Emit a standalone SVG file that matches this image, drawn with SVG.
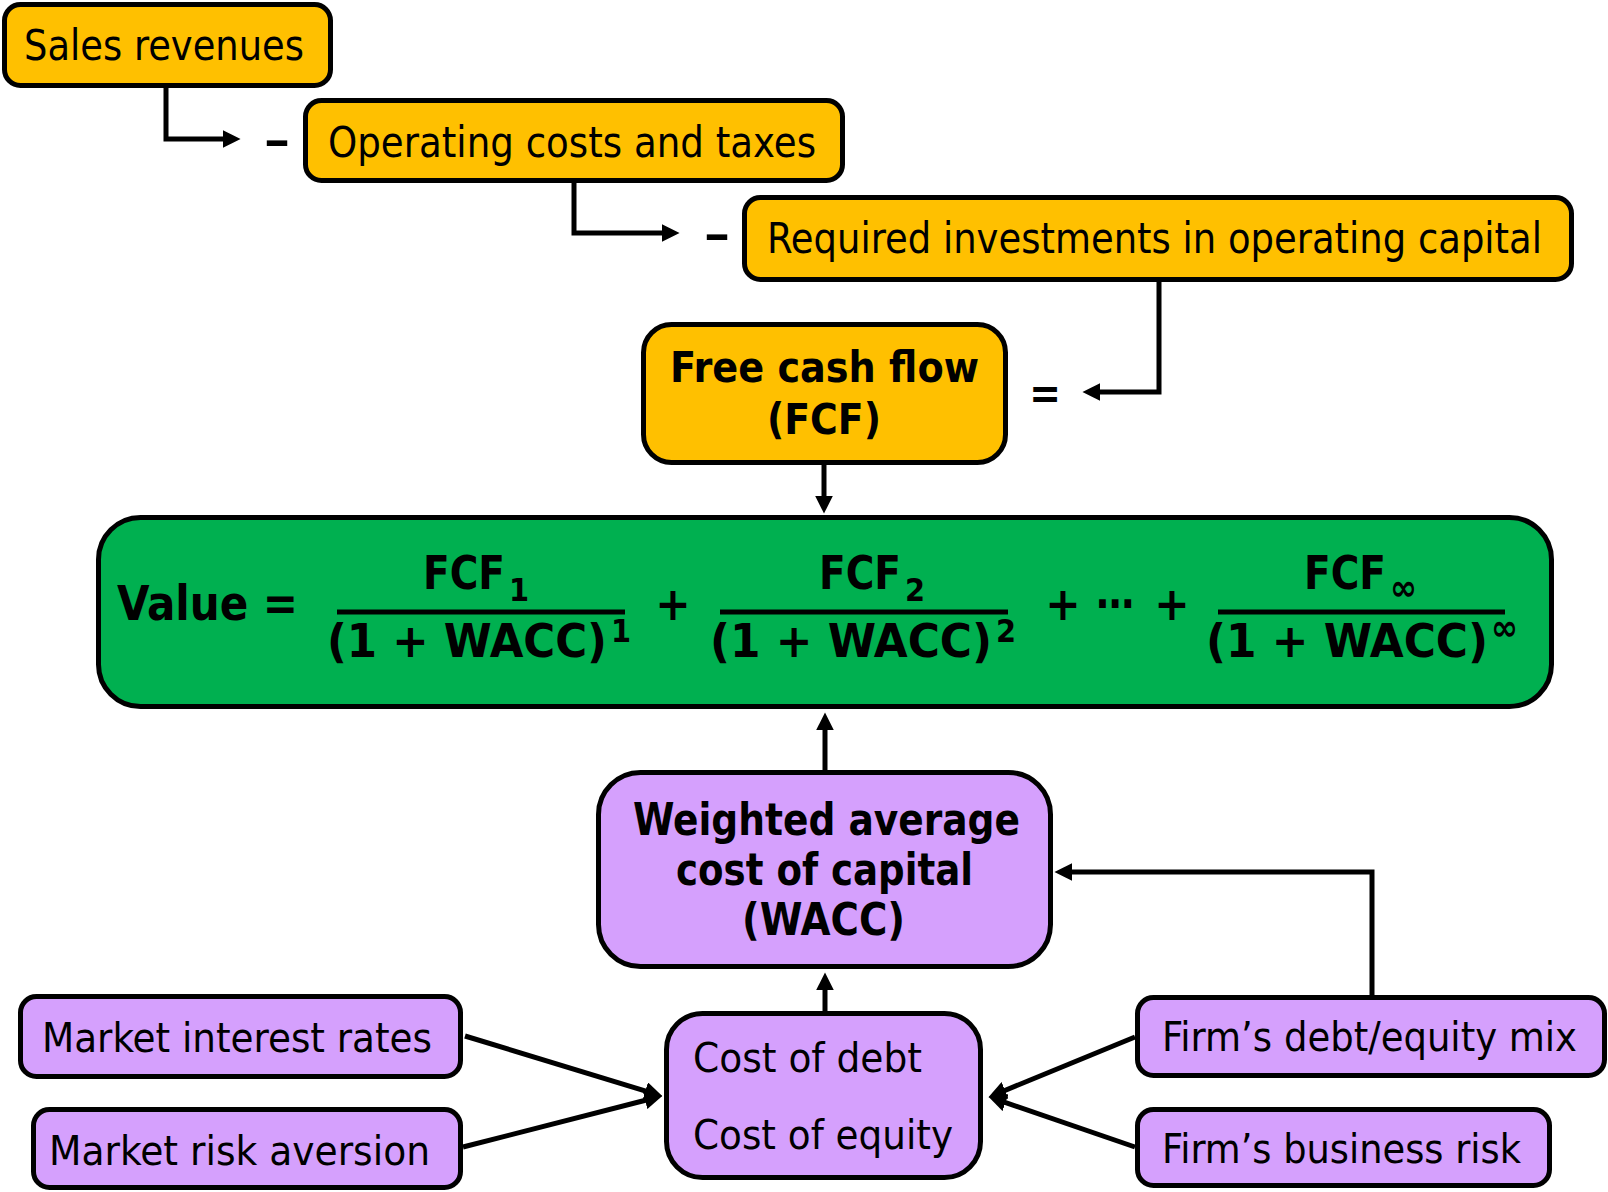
<svg xmlns="http://www.w3.org/2000/svg" width="1608" height="1192" viewBox="0 0 1608 1192">
<style>
.box{stroke:#000;stroke-width:5}
.y{fill:#FFC000}
.g{fill:#00B050}
.p{fill:#D5A0FD}
.t{font-family:"DejaVu Sans Condensed","DejaVu Sans",sans-serif;fill:#000}
.r{font-size:42px}
.s{font-size:40px}
.b{font-weight:bold}
.sm{font-size:32px}
.inf{font-size:36px}
.con{fill:none;stroke:#000;stroke-width:5}
</style>
<defs>
<marker id="ah" markerUnits="userSpaceOnUse" markerWidth="18" markerHeight="18" viewBox="0 0 17 17" refX="7" refY="8.5" orient="auto">
<path d="M0,0 L17,8.5 L0,17 z" fill="#000"/>
</marker>
</defs>
<rect width="1608" height="1192" fill="#fff"/>

<g id="connectors">
<path class="con" d="M166,88 V139 H230" marker-end="url(#ah)"/>
<path class="con" d="M574,183 V233 H669" marker-end="url(#ah)"/>
<path class="con" d="M1159,282 V392 H1093" marker-end="url(#ah)"/>
<path class="con" d="M824,465 V503" marker-end="url(#ah)"/>
<path class="con" d="M825,770 V723" marker-end="url(#ah)"/>
<path class="con" d="M825,1011 V983" marker-end="url(#ah)"/>
<path class="con" d="M1372,995 V872 H1065" marker-end="url(#ah)"/>
<path class="con" d="M465,1036 L652.4,1093.1" marker-end="url(#ah)"/>
<path class="con" d="M463,1147 L652.3,1098.5" marker-end="url(#ah)"/>
<path class="con" d="M1135,1037 L998.2,1093.2" marker-end="url(#ah)"/>
<path class="con" d="M1135,1147 L998.5,1100.2" marker-end="url(#ah)"/>
<text class="t b" x="264" y="155" font-size="44" textLength="26" lengthAdjust="spacingAndGlyphs">–</text>
<text class="t b" x="704" y="249" font-size="44" textLength="26" lengthAdjust="spacingAndGlyphs">–</text>
<text class="t b" x="1045" y="408" font-size="42" text-anchor="middle">=</text>
</g>

<g id="sales">
<rect class="box y" x="4.5" y="4.5" width="326" height="81" rx="16"/>
<text class="t r" x="24" y="60" textLength="280" lengthAdjust="spacingAndGlyphs">Sales revenues</text>
</g>
<g id="operating">
<rect class="box y" x="305.5" y="100.5" width="537" height="80" rx="16"/>
<text class="t r" x="328" y="157" textLength="488" lengthAdjust="spacingAndGlyphs">Operating costs and taxes</text>
</g>
<g id="required">
<rect class="box y" x="744.5" y="197.5" width="827" height="82" rx="16"/>
<text class="t r" x="767" y="253" textLength="775" lengthAdjust="spacingAndGlyphs">Required investments in operating capital</text>
</g>
<g id="fcf">
<rect class="box y" x="643.5" y="324.5" width="362" height="138" rx="28"/>
<text class="t b" font-size="43" x="670" y="382" textLength="309" lengthAdjust="spacingAndGlyphs">Free cash flow</text>
<text class="t b" font-size="43" x="767" y="434" textLength="114" lengthAdjust="spacingAndGlyphs">(FCF)</text>
</g>

<g id="value">
<rect class="box g" x="98.5" y="517.5" width="1453" height="189" rx="42"/>
<text class="t b" font-size="48" x="117" y="620" textLength="181" lengthAdjust="spacingAndGlyphs">Value =</text>
<g class="t b" font-size="47">
<text x="423" y="589"><tspan textLength="82" lengthAdjust="spacingAndGlyphs">FCF</tspan><tspan class="sm" x="509" y="601">1</tspan></text>
<text x="327" y="657"><tspan textLength="280" lengthAdjust="spacingAndGlyphs">(1 + WACC)</tspan><tspan class="sm" x="611" y="642">1</tspan></text>
<text x="673" y="620" text-anchor="middle">+</text>
<text x="819" y="589"><tspan textLength="82" lengthAdjust="spacingAndGlyphs">FCF</tspan><tspan class="sm" x="905" y="601">2</tspan></text>
<text x="710" y="657"><tspan textLength="282" lengthAdjust="spacingAndGlyphs">(1 + WACC)</tspan><tspan class="sm" x="996" y="642">2</tspan></text>
<text x="1063" y="620" text-anchor="middle">+</text>
<text x="1096" y="620" textLength="38" lengthAdjust="spacingAndGlyphs">⋯</text>
<text x="1172" y="620" text-anchor="middle">+</text>
<text x="1304" y="589"><tspan textLength="82" lengthAdjust="spacingAndGlyphs">FCF</tspan><tspan class="inf" x="1390" y="600">∞</tspan></text>
<text x="1206" y="657"><tspan textLength="282" lengthAdjust="spacingAndGlyphs">(1 + WACC)</tspan><tspan class="inf" x="1491" y="640">∞</tspan></text>
</g>
<g stroke="#000" stroke-width="5">
<line x1="337" y1="612" x2="625" y2="612"/>
<line x1="720" y1="612" x2="1008" y2="612"/>
<line x1="1218" y1="612" x2="1505" y2="612"/>
</g>
</g>

<g id="wacc">
<rect class="box p" x="598.5" y="772.5" width="452" height="194" rx="42"/>
<text class="t b" font-size="44" x="633" y="835" textLength="387" lengthAdjust="spacingAndGlyphs">Weighted average</text>
<text class="t b" font-size="44" x="676" y="885" textLength="297" lengthAdjust="spacingAndGlyphs">cost of capital</text>
<text class="t b" font-size="44" x="742" y="935" textLength="163" lengthAdjust="spacingAndGlyphs">(WACC)</text>
</g>
<g id="costs">
<rect class="box p" x="666.5" y="1013.5" width="314" height="164" rx="36"/>
<text class="t s" x="693" y="1072" textLength="229" lengthAdjust="spacingAndGlyphs">Cost of debt</text>
<text class="t s" x="693" y="1149" textLength="260" lengthAdjust="spacingAndGlyphs">Cost of equity</text>
</g>
<g id="market-interest">
<rect class="box p" x="20.5" y="996.5" width="440" height="80" rx="16"/>
<text class="t s" x="42" y="1052" textLength="390" lengthAdjust="spacingAndGlyphs">Market interest rates</text>
</g>
<g id="market-risk">
<rect class="box p" x="33.5" y="1109.5" width="427" height="78" rx="16"/>
<text class="t s" x="49" y="1165" textLength="381" lengthAdjust="spacingAndGlyphs">Market risk aversion</text>
</g>
<g id="debt-equity">
<rect class="box p" x="1137.5" y="997.5" width="467" height="78" rx="16"/>
<text class="t s" x="1162" y="1051" textLength="415" lengthAdjust="spacingAndGlyphs">Firm’s debt/equity mix</text>
</g>
<g id="business-risk">
<rect class="box p" x="1137.5" y="1109.5" width="412" height="76" rx="16"/>
<text class="t s" x="1162" y="1163" textLength="359" lengthAdjust="spacingAndGlyphs">Firm’s business risk</text>
</g>
</svg>
